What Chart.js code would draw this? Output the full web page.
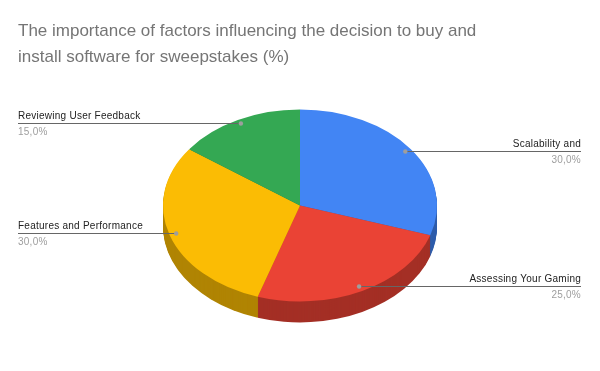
<!DOCTYPE html>
<html>
<head>
<meta charset="utf-8">
<script src="https://cdn.jsdelivr.net/npm/chart.js@4.4.1/dist/chart.umd.min.js"></script>
<style>
  body { margin: 0; background: #fff; }
</style>
</head>
<body>
<canvas id="chart" width="600" height="371"></canvas>
<script>
const labels = ["Scalability and", "Assessing Your Gaming", "Features and Performance", "Reviewing User Feedback"];
const shares = [30, 25, 30, 15];
const colors = ["#4285f4", "#ea4335", "#fbbc04", "#34a853"];
const titleLines = ["The importance of factors influencing the decision to buy and", "install software for sweepstakes (%)"];

const tilt = 0.7;   // vertical squash of the pie
const depth = 21;   // thickness of the side, px

function shade(hex, f) {
  const n = parseInt(hex.slice(1), 16);
  const r = Math.round((n >> 16) * f);
  const g = Math.round(((n >> 8) & 255) * f);
  const b = Math.round((n & 255) * f);
  return `rgb(${r},${g},${b})`;
}

function squash(ctx, arc, dy) {
  ctx.translate(arc.x, arc.y + dy);
  ctx.scale(1, tilt);
  ctx.translate(-arc.x, -arc.y);
}

const pie3d = {
  id: "pie3d",
  beforeDatasetsDraw(chart) {
    const ctx = chart.ctx;
    const arcs = chart.getDatasetMeta(0).data;
    // side wall: the pie repeated downwards in darker colours
    for (let d = depth; d > 0; d--) {
      ctx.save();
      squash(ctx, arcs[0], d);
      arcs.forEach((a, i) => {
        ctx.beginPath();
        ctx.moveTo(a.x, a.y);
        ctx.arc(a.x, a.y, a.outerRadius, a.startAngle, a.endAngle);
        ctx.closePath();
        ctx.fillStyle = shade(colors[i], 0.7);
        ctx.fill();
      });
      ctx.restore();
    }
    // top face gets drawn by chart.js inside this transform
    ctx.save();
    squash(ctx, arcs[0], 0);
  },
  afterDatasetsDraw(chart) {
    const ctx = chart.ctx;
    ctx.restore();
    const area = chart.chartArea;
    const arcs = chart.getDatasetMeta(0).data;
    arcs.forEach((a, i) => {
      const mid = (a.startAngle + a.endAngle) / 2;
      const px = a.x + Math.cos(mid) * a.outerRadius * 0.95;
      const py = Math.round(a.y + Math.sin(mid) * a.outerRadius * 0.95 * tilt) - 0.5;
      const onRight = Math.cos(mid) > 0;
      const ex = onRight ? area.right - 1 : area.left;

      ctx.save();
      ctx.strokeStyle = "#666666";
      ctx.lineWidth = 1;
      ctx.beginPath();
      ctx.moveTo(px, py);
      ctx.lineTo(ex, py);
      ctx.stroke();
      ctx.fillStyle = "#9e9e9e";
      ctx.beginPath();
      ctx.arc(px, py, 2.2, 0, Math.PI * 2);
      ctx.fill();

      ctx.font = "10px 'Liberation Sans'";
      ctx.letterSpacing = "0.25px";
      ctx.textAlign = onRight ? "right" : "left";
      ctx.textBaseline = "alphabetic";
      ctx.fillStyle = "#222222";
      ctx.fillText(labels[i], ex, py - 5);
      ctx.fillStyle = "#9e9e9e";
      ctx.fillText(shares[i].toFixed(1).replace(".", ",") + "%", ex, py + 11);
      ctx.restore();
    });
  }
};

new Chart(document.getElementById("chart"), {
  type: "pie",
  data: {
    labels: labels,
    datasets: [{
      data: shares,
      backgroundColor: colors,
      borderWidth: 0,
      hoverOffset: 0,
      clip: false,
    }],
  },
  options: {
    responsive: false,
    animation: false,
    events: [],
    radius: 137,
    layout: { padding: { top: 0, left: 18, right: 18, bottom: 39 } },
    plugins: {
      legend: { display: false },
      tooltip: { enabled: false },
      title: {
        display: true,
        text: titleLines,
        align: "start",
        color: "#757575",
        font: { family: "'Liberation Sans'", size: 17, weight: "normal", lineHeight: 1.5 },
        padding: { top: 19, bottom: 9 },
      },
    },
  },
  plugins: [pie3d],
});
</script>
</body>
</html>
